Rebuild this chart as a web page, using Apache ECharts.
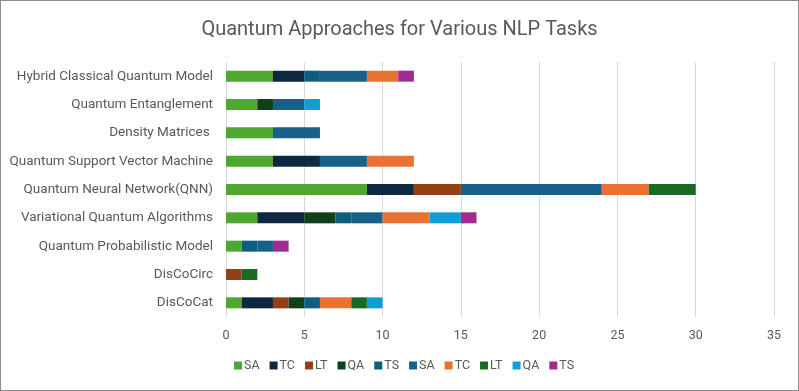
<!DOCTYPE html>
<html><head><meta charset="utf-8">
<script src="https://cdn.jsdelivr.net/npm/echarts@6/dist/echarts.min.js"></script>
<style>html,body{margin:0;padding:0;background:#fff}
#wrap{position:absolute;left:0;top:0;width:797px;height:389px;border:1px solid #8c8c8c;}
#c{width:797px;height:389px}</style></head>
<body><div id="wrap"><div id="c"></div></div>
<script>
const categories = ["DisCoCat","DisCoCirc","Quantum Probabilistic Model","Variational Quantum Algorithms","Quantum Neural Network(QNN)","Quantum Support Vector Machine","Density Matrices ","Quantum Entanglement","Hybrid Classical Quantum Model"];
const seriesNames = ["SA","TC","LT","QA","TS","SA","TC","LT","QA","TS"];
const SA1 = [1,0,1,2,9,3,3,2,3];
const TC1 = [2,0,0,3,3,3,0,0,2];
const LT1 = [1,1,0,0,3,0,0,0,0];
const QA1 = [1,0,0,2,0,0,0,1,0];
const TS1 = [1,0,1,1,0,0,0,0,1];
const SA2 = [0,0,1,2,9,3,3,2,3];
const TC2 = [2,0,0,3,3,3,0,0,2];
const LT2 = [1,1,0,0,3,0,0,0,0];
const QA2 = [1,0,0,2,0,0,0,1,0];
const TS2 = [0,0,1,1,0,0,0,0,1];
const xTicks = [0,5,10,15,20,25,30,35];
const values = [SA1,TC1,LT1,QA1,TS1,SA2,TC2,LT2,QA2,TS2];
const colors = ["#4EA72E","#0E2841","#953F14","#10401A","#0E5F7F","#17608A","#E97132","#196B24","#0F9ED5","#A02B93"];
const font = "Roboto";
const chart = echarts.init(document.getElementById('c'));
chart.setOption({
  animation:false,
  color: colors,
  title:{text:"Quantum Approaches for Various NLP Tasks",left:'center',top:14,
    textStyle:{fontFamily:font,fontSize:20,fontWeight:'normal',color:'#595959'}},
  grid:{left:225,right:24,top:61,bottom:73,containLabel:false},
  xAxis:{type:'value',min:xTicks[0],max:xTicks[xTicks.length-1],interval:5,
    axisLine:{show:false},axisTick:{show:false},
    splitLine:{lineStyle:{color:'#d9d9d9',width:1}},
    axisLabel:{fontFamily:font,fontSize:12.5,color:'#595959',margin:12}},
  yAxis:{type:'category',data:categories,
    axisLine:{show:false},axisTick:{show:false},
    axisLabel:{fontFamily:font,fontSize:13.5,color:'#595959',margin:13}},
  legend:{bottom:13,left:228,itemWidth:8,itemHeight:8,itemGap:10,icon:'rect',
    textStyle:{fontFamily:font,fontSize:12.5,color:'#595959',padding:[0,0,0,-3]},
    data:seriesNames.map((n,i)=>({name:n+'\u200b'.repeat(i>=5?1:0)}))},
  series: values.map((v,i)=>({
    name: seriesNames[i]+'\u200b'.repeat(i>=5?1:0),
    type:'bar',stack:'all',barWidth:11,data:v,
    itemStyle:{color:colors[i]}
  }))
});
</script></body></html>
